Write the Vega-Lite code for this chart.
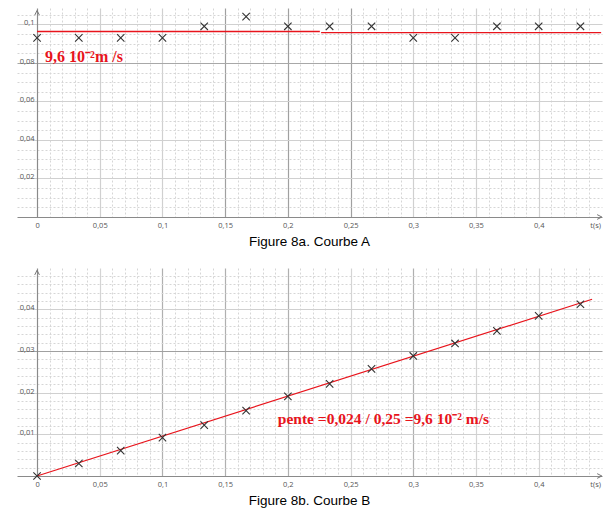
{
  "$schema": "https://vega.github.io/schema/vega-lite/v6.json",
  "padding": {"left": 17, "top": 8, "right": 5, "bottom": 0},
  "background": "white",
  "spacing": 19,
  "datasets": {
    "courbeA": [
      {"t": 0, "v": 0.093},
      {"t": 0.0333, "v": 0.093},
      {"t": 0.0667, "v": 0.093},
      {"t": 0.1, "v": 0.093},
      {"t": 0.1333, "v": 0.099},
      {"t": 0.1667, "v": 0.104},
      {"t": 0.2, "v": 0.099},
      {"t": 0.2333, "v": 0.099},
      {"t": 0.2667, "v": 0.099},
      {"t": 0.3, "v": 0.093},
      {"t": 0.3333, "v": 0.093},
      {"t": 0.3667, "v": 0.099},
      {"t": 0.4, "v": 0.099},
      {"t": 0.4333, "v": 0.099}
    ],
    "courbeB": [
      {"t": 0, "d": 0},
      {"t": 0.0333, "d": 0.003},
      {"t": 0.0667, "d": 0.0061},
      {"t": 0.1, "d": 0.0092},
      {"t": 0.1333, "d": 0.0122},
      {"t": 0.1667, "d": 0.0157},
      {"t": 0.2, "d": 0.0191},
      {"t": 0.2333, "d": 0.0221},
      {"t": 0.2667, "d": 0.0257},
      {"t": 0.3, "d": 0.0288},
      {"t": 0.3333, "d": 0.0318},
      {"t": 0.3667, "d": 0.0348},
      {"t": 0.4, "d": 0.0384},
      {"t": 0.4333, "d": 0.0412}
    ],
    "ligneA": [
      {"t": 0, "v": 0.0963, "seg": "a"},
      {"t": 0.2255, "v": 0.0963, "seg": "a"},
      {"t": 0.2265, "v": 0.0957, "seg": "b"},
      {"t": 0.4498, "v": 0.0957, "seg": "b"}
    ],
    "ligneB": [
      {"t": 0, "d": 0},
      {"t": 0.4426, "d": 0.0424}
    ],
    "texteA": [
      {"t": 0.0064, "v": 0.0829, "label": "9,6 10⁻²m /s"}
    ],
    "texteB": [
      {"t": 0.192, "d": 0.01375, "label": "pente =0,024 / 0,25 =9,6 10⁻² m/s"}
    ],
    "flechesA": [
      {"t": 0, "v": 0.106, "dir": "haut"},
      {"t": 0.4485, "v": 0, "dir": "droite"}
    ],
    "flechesB": [
      {"t": 0, "d": 0.0488, "dir": "haut"},
      {"t": 0.4485, "d": 0, "dir": "droite"}
    ]
  },
  "vconcat": [
    {
      "width": 585,
      "height": 209,
      "title": {"text": "Figure 8a. Courbe A", "orient": "bottom", "anchor": "middle", "font": "Liberation Sans", "fontSize": 13.5, "fontWeight": "normal", "color": "#000000", "offset": 6.5},
      "resolve": {"axis": {"x": "independent", "y": "independent"}},
      "layer": [
        {
          "data": {"name": "ligneA"},
          "mark": {"type": "line", "color": "#e8141c", "strokeWidth": 1.3},
          "encoding": {
            "x": {"field": "t", "type": "quantitative", "scale": {"domain": [-0.016, 0.4505], "nice": false, "zero": false},
              "axis": {"orient": "bottom", "title": null, "labels": false, "ticks": false, "domain": false, "grid": true, "gridColor": "#d6d6d6", "gridDash": [2, 2], "gridWidth": 1,
                "values": [0.01,0.02,0.03,0.04,0.06,0.07,0.08,0.09,0.11,0.12,0.13,0.14,0.16,0.17,0.18,0.19,0.21,0.22,0.23,0.24,0.26,0.27,0.28,0.29,0.31,0.32,0.33,0.34,0.36,0.37,0.38,0.39,0.41,0.42,0.43,0.44]}},
            "y": {"field": "v", "type": "quantitative", "scale": {"domain": [0, 0.1085], "nice": false},
              "axis": {"orient": "left", "title": null, "labels": false, "ticks": false, "domain": false, "grid": true, "gridColor": "#d6d6d6", "gridDash": [2, 2], "gridWidth": 1,
                "values": [0.005,0.01,0.015,0.025,0.03,0.035,0.045,0.05,0.055,0.065,0.07,0.075,0.085,0.09,0.095,0.105]}},
            "detail": {"field": "seg", "type": "nominal"}
          }
        },
        {
          "data": {"name": "texteA"},
          "mark": {"type": "text", "align": "left", "baseline": "middle", "font": "Liberation Serif", "fontWeight": "bold", "fontSize": 16, "color": "#e8141c"},
          "encoding": {
            "x": {"field": "t", "type": "quantitative", "scale": {"domain": [-0.016, 0.4505], "nice": false, "zero": false},
              "axis": {"orient": "bottom", "title": null, "labels": false, "ticks": false, "domain": false, "grid": true, "gridWidth": 1.2,
                "gridColor": {"condition": {"test": "indexof([0.15,0.2,0.25], datum.value) >= 0", "value": "#a0a0a0"}, "value": "#d0d0d0"},
                "values": [0.05,0.1,0.15,0.2,0.25,0.3,0.35,0.4]}},
            "y": {"field": "v", "type": "quantitative", "scale": {"domain": [0, 0.1085], "nice": false},
              "axis": {"orient": "left", "title": null, "labels": false, "ticks": false, "domain": false, "grid": true, "gridWidth": 1.2,
                "gridColor": {"condition": {"test": "datum.value == 0.08", "value": "#a8a8a8"}, "value": "#d0d0d0"},
                "values": [0.02,0.04,0.06,0.08,0.1]}},
            "text": {"field": "label"}
          }
        },
        {
          "data": {"name": "flechesA"},
          "mark": {"type": "point", "filled": false, "size": 22, "strokeWidth": 1, "opacity": 1, "color": "#777777"},
          "encoding": {
            "x": {"field": "t", "type": "quantitative", "scale": {"domain": [-0.016, 0.4505], "nice": false, "zero": false},
              "axis": {"orient": "bottom", "title": null, "grid": false, "ticks": false, "domain": true, "domainColor": "#8a8a8a", "domainWidth": 1.2,
                "labelFont": "Open Sans", "labelFontSize": 7.5, "labelColor": "#555555", "labelPadding": 4, "labelFlush": false, "labelOverlap": false,
                "values": [0,0.05,0.1,0.15,0.2,0.25,0.3,0.35,0.4,0.445],
                "labelExpr": "datum.value > 0.44 ? 't(s)' : replace(format(datum.value, '~g'), '.', ',')"}},
            "y": {"field": "v", "type": "quantitative", "scale": {"domain": [0, 0.1085], "nice": false},
              "axis": {"orient": "left", "offset": -20, "title": null, "grid": false, "ticks": false, "domain": true, "domainColor": "#8a8a8a", "domainWidth": 1.2,
                "labelFont": "Open Sans", "labelFontSize": 7.5, "labelColor": "#555555", "labelPadding": 3, "labelOffset": -1.5, "labelOverlap": false, "labelFlush": false,
                "values": [0.02,0.04,0.06,0.08,0.1],
                "labelExpr": "replace(format(datum.value, '~g'), '.', ',')"}},
            "shape": {"field": "dir", "type": "nominal", "scale": {"domain": ["haut", "droite"], "range": ["M-1,1L0,-1L1,1", "M-1,-1L1,0L-1,1"]}, "legend": null}
          }
        },
        {
          "data": {"name": "courbeA"},
          "mark": {"type": "point", "shape": "M-1,-1L1,1M-1,1L1,-1", "filled": false, "size": 55, "strokeWidth": 1.1, "color": "#333333", "opacity": 1},
          "encoding": {
            "x": {"field": "t", "type": "quantitative", "scale": {"domain": [-0.016, 0.4505], "nice": false, "zero": false}, "axis": null},
            "y": {"field": "v", "type": "quantitative", "scale": {"domain": [0, 0.1085], "nice": false}, "axis": null}
          }
        }
      ]
    },
    {
      "width": 585,
      "height": 208,
      "title": {"text": "Figure 8b. Courbe B", "orient": "bottom", "anchor": "middle", "font": "Liberation Sans", "fontSize": 13.5, "fontWeight": "normal", "color": "#000000", "offset": 6.5},
      "resolve": {"axis": {"x": "independent", "y": "independent"}},
      "layer": [
        {
          "data": {"name": "ligneB"},
          "mark": {"type": "line", "color": "#e8141c", "strokeWidth": 1.2},
          "encoding": {
            "x": {"field": "t", "type": "quantitative", "scale": {"domain": [-0.016, 0.4505], "nice": false, "zero": false},
              "axis": {"orient": "bottom", "title": null, "labels": false, "ticks": false, "domain": false, "grid": true, "gridColor": "#d6d6d6", "gridDash": [2, 2], "gridWidth": 1,
                "values": [0.01,0.02,0.03,0.04,0.06,0.07,0.08,0.09,0.11,0.12,0.13,0.14,0.16,0.17,0.18,0.19,0.21,0.22,0.23,0.24,0.26,0.27,0.28,0.29,0.31,0.32,0.33,0.34,0.36,0.37,0.38,0.39,0.41,0.42,0.43,0.44]}},
            "y": {"field": "d", "type": "quantitative", "scale": {"domain": [0, 0.0499], "nice": false},
              "axis": {"orient": "left", "title": null, "labels": false, "ticks": false, "domain": false, "grid": true, "gridColor": "#d6d6d6", "gridDash": [2, 2], "gridWidth": 1,
                "values": [0.002,0.004,0.006,0.008,0.012,0.014,0.016,0.018,0.022,0.024,0.026,0.028,0.032,0.034,0.036,0.038,0.042,0.044,0.046,0.048]}}
          }
        },
        {
          "data": {"name": "texteB"},
          "mark": {"type": "text", "align": "left", "baseline": "middle", "font": "Liberation Serif", "fontWeight": "bold", "fontSize": 15.5, "color": "#e8141c"},
          "encoding": {
            "x": {"field": "t", "type": "quantitative", "scale": {"domain": [-0.016, 0.4505], "nice": false, "zero": false},
              "axis": {"orient": "bottom", "title": null, "labels": false, "ticks": false, "domain": false, "grid": true, "gridWidth": 1.2,
                "gridColor": {"condition": {"test": "indexof([0.1,0.15,0.2,0.3], datum.value) >= 0", "value": "#b0b0b0"}, "value": "#d4d4d4"},
                "values": [0.05,0.1,0.15,0.2,0.25,0.3,0.35,0.4]}},
            "y": {"field": "d", "type": "quantitative", "scale": {"domain": [0, 0.0499], "nice": false},
              "axis": {"orient": "left", "title": null, "labels": false, "ticks": false, "domain": false, "grid": true, "gridWidth": 1.2,
                "gridColor": {"condition": {"test": "datum.value == 0.03", "value": "#a0a0a0"}, "value": "#d0d0d0"},
                "values": [0.01,0.02,0.03,0.04]}},
            "text": {"field": "label"}
          }
        },
        {
          "data": {"name": "flechesB"},
          "mark": {"type": "point", "filled": false, "size": 22, "strokeWidth": 1, "opacity": 1, "color": "#777777"},
          "encoding": {
            "x": {"field": "t", "type": "quantitative", "scale": {"domain": [-0.016, 0.4505], "nice": false, "zero": false},
              "axis": {"orient": "bottom", "title": null, "grid": false, "ticks": false, "domain": true, "domainColor": "#8a8a8a", "domainWidth": 1.2,
                "labelFont": "Open Sans", "labelFontSize": 7.5, "labelColor": "#555555", "labelPadding": 4, "labelFlush": false, "labelOverlap": false,
                "values": [0,0.05,0.1,0.15,0.2,0.25,0.3,0.35,0.4,0.445],
                "labelExpr": "datum.value > 0.44 ? 't(s)' : replace(format(datum.value, '~g'), '.', ',')"}},
            "y": {"field": "d", "type": "quantitative", "scale": {"domain": [0, 0.0499], "nice": false},
              "axis": {"orient": "left", "offset": -20, "title": null, "grid": false, "ticks": false, "domain": true, "domainColor": "#8a8a8a", "domainWidth": 1.2,
                "labelFont": "Open Sans", "labelFontSize": 7.5, "labelColor": "#555555", "labelPadding": 3, "labelOffset": -1.5, "labelOverlap": false, "labelFlush": false,
                "values": [0.01,0.02,0.03,0.04],
                "labelExpr": "replace(format(datum.value, '~g'), '.', ',')"}},
            "shape": {"field": "dir", "type": "nominal", "scale": {"domain": ["haut", "droite"], "range": ["M-1,1L0,-1L1,1", "M-1,-1L1,0L-1,1"]}, "legend": null}
          }
        },
        {
          "data": {"name": "courbeB"},
          "mark": {"type": "point", "shape": "M-1,-1L1,1M-1,1L1,-1", "filled": false, "size": 55, "strokeWidth": 1.1, "color": "#333333", "opacity": 1},
          "encoding": {
            "x": {"field": "t", "type": "quantitative", "scale": {"domain": [-0.016, 0.4505], "nice": false, "zero": false}, "axis": null},
            "y": {"field": "d", "type": "quantitative", "scale": {"domain": [0, 0.0499], "nice": false}, "axis": null}
          }
        }
      ]
    }
  ],
  "config": {
    "view": {"stroke": null},
    "concat": {"spacing": 19}
  }
}
